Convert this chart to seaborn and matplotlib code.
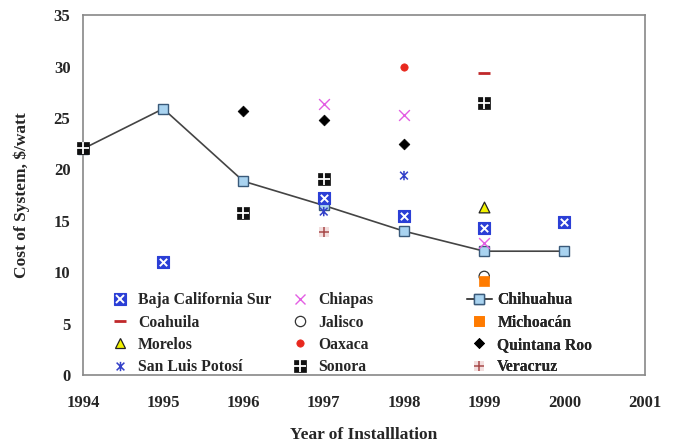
import pandas as pd
import matplotlib
matplotlib.use("Agg")
import matplotlib.pyplot as plt
from matplotlib.path import Path
from matplotlib.legend_handler import HandlerTuple
from matplotlib.lines import Line2D
import seaborn as sns

# data
states = ["Baja California Sur", "Chiapas", "Chihuahua", "Coahuila", "Jalisco", "Michoacán",
          "Morelos", "Oaxaca", "Quintana Roo", "San Luis Potosí", "Sonora", "Veracruz"]

bcs_years = [1995, 1997, 1998, 1999, 2000]
bcs_cost = [11.0, 17.2, 15.45, 14.3, 14.9]
chiapas_years = [1997, 1998, 1999]
chiapas_cost = [26.4, 25.3, 12.8]
chihuahua_years = [1994, 1995, 1996, 1997, 1998, 1999, 2000]
chihuahua_cost = [22.0, 25.9, 18.85, 16.5, 14.0, 12.05, 12.05]
coahuila_years = [1999]
coahuila_cost = [29.35]
jalisco_years = [1999]
jalisco_cost = [9.6]
michoacan_years = [1999]
michoacan_cost = [9.2]
morelos_years = [1999]
morelos_cost = [16.3]
oaxaca_years = [1998]
oaxaca_cost = [30.0]
qroo_years = [1996, 1997, 1998]
qroo_cost = [25.65, 24.8, 22.5]
slp_years = [1997, 1998]
slp_cost = [15.9, 19.4]
sonora_years = [1994, 1996, 1997, 1999]
sonora_cost = [22.05, 15.8, 19.1, 26.5]
veracruz_years = [1997]
veracruz_cost = [13.9]

year_ticks = [1994, 1995, 1996, 1997, 1998, 1999, 2000, 2001]
cost_ticks = [0, 5, 10, 15, 20, 25, 30, 35]

series = {
    "Baja California Sur": (bcs_years, bcs_cost),
    "Chiapas": (chiapas_years, chiapas_cost),
    "Chihuahua": (chihuahua_years, chihuahua_cost),
    "Coahuila": (coahuila_years, coahuila_cost),
    "Jalisco": (jalisco_years, jalisco_cost),
    "Michoacán": (michoacan_years, michoacan_cost),
    "Morelos": (morelos_years, morelos_cost),
    "Oaxaca": (oaxaca_years, oaxaca_cost),
    "Quintana Roo": (qroo_years, qroo_cost),
    "San Luis Potosí": (slp_years, slp_cost),
    "Sonora": (sonora_years, sonora_cost),
    "Veracruz": (veracruz_years, veracruz_cost),
}
rows = []
for s in states:
    for y, c in zip(*series[s]):
        rows.append({"State": s, "Year": y, "Cost": c})
df = pd.DataFrame(rows)

sns.set_style("white")
plt.rcParams["font.family"] = ["Liberation Serif", "DejaVu Serif"]
plt.rcParams["font.weight"] = "bold"

# excel style "star": x with a vertical bar
star = Path([(-1, -1), (1, 1), (-1, 1), (1, -1), (0, -1.2), (0, 1.2)],
            [Path.MOVETO, Path.LINETO, Path.MOVETO, Path.LINETO, Path.MOVETO, Path.LINETO])

# marker layers per state: (marker, size, facecolor, edgecolor, lw)
styles = {
    "Baja California Sur": [("s", 65, "#2b3fd6", "#2b3fd6", 0.8), ("x", 28, "white", "white", 1.4)],
    "Chiapas": [("x", 60, "#e35ee3", "#e35ee3", 1.0)],
    "Coahuila": [("_", 80, "#c0282a", "#c0282a", 2.0)],
    "Jalisco": [("o", 55, "none", "#333333", 0.9)],
    "Michoacán": [("s", 55, "#ff7b00", "#ff7b00", 0.5)],
    "Morelos": [("^", 60, "#f2f200", "#222222", 0.9)],
    "Oaxaca": [("o", 28, "#e8281e", "#e8281e", 0.5)],
    "Quintana Roo": [("D", 30, "black", "black", 0.5)],
    "San Luis Potosí": [(star, 45, "none", "#3340c8", 1.1)],
    "Sonora": [("s", 65, "#111111", "#111111", 0.5), ("+", 65, "white", "white", 1.3)],
    "Veracruz": [("s", 55, "#f3dede", "none", 0), ("+", 60, "#a84a4a", "#a84a4a", 1.1)],
}

fig = plt.figure(figsize=(6.73, 4.45), dpi=100)
ax = fig.add_axes([0.1233, 0.157, 0.8347, 0.809])

sub = df[df["State"] == "Chihuahua"]
sns.lineplot(data=sub, x="Year", y="Cost", ax=ax, color="#444444", lw=1.2,
             marker="s", markersize=7.5, markerfacecolor="#a9d3f0", markeredgecolor="#3a5a7a",
             markeredgewidth=1.0, zorder=2, clip_on=False)

handles = {}
handles["Chihuahua"] = Line2D([], [], color="#444444", lw=1.2, marker="s", markersize=7.5,
                              markerfacecolor="#a9d3f0", markeredgecolor="#3a5a7a")
for s in states:
    if s == "Chihuahua":
        continue
    sub = df[df["State"] == s]
    hs = []
    for k, (m, size, fc, ec, lw) in enumerate(styles[s]):
        sns.scatterplot(data=sub, x="Year", y="Cost", ax=ax, marker=m, s=size,
                        color=fc, edgecolor=ec, linewidth=lw, zorder=3 + k, clip_on=False)
        hs.append(Line2D([], [], ls="none", marker=m, markersize=size ** 0.5,
                         markerfacecolor=fc, markeredgecolor=ec if m not in ("x", "+", "_") else fc,
                         color=fc, markeredgewidth=lw))
    handles[s] = tuple(hs) if len(hs) > 1 else hs[0]

ax.set_xlim(1994, 2001)
ax.set_ylim(0, 35)
ax.set_xticks(year_ticks)
ax.set_yticks(cost_ticks)
ax.tick_params(axis="both", direction="in", length=3, color="#999999", labelsize=12)
ax.tick_params(axis="x", pad=14)
ax.tick_params(axis="y", pad=9)
for lab in ax.get_xticklabels() + ax.get_yticklabels():
    lab.set_fontweight("bold")
for sp in ax.spines.values():
    sp.set_color("#888888")
    sp.set_linewidth(1.2)
ax.set_xlabel("Year of Installlation", fontsize=12.5, fontweight="bold", labelpad=12)
ax.set_ylabel("Cost of System, $/watt", fontsize=12.5, fontweight="bold", labelpad=17)

# legend in three separate columns to mimic the spacing of the original
cols = [states[0::3], states[1::3], states[2::3]]
anchors = [0.0436, 0.364, 0.683]
for col, xa in zip(cols, anchors):
    leg = ax.legend([handles[s] for s in col], col, loc="lower left", bbox_to_anchor=(xa, 0.0),
                    frameon=False, fontsize=11.3, handlelength=1.6, handletextpad=0.35,
                    labelspacing=0.4, borderaxespad=0, borderpad=0,
                    handler_map={tuple: HandlerTuple(ndivide=1)})
    ax.add_artist(leg)

fig.savefig("out.png", dpi=100)
